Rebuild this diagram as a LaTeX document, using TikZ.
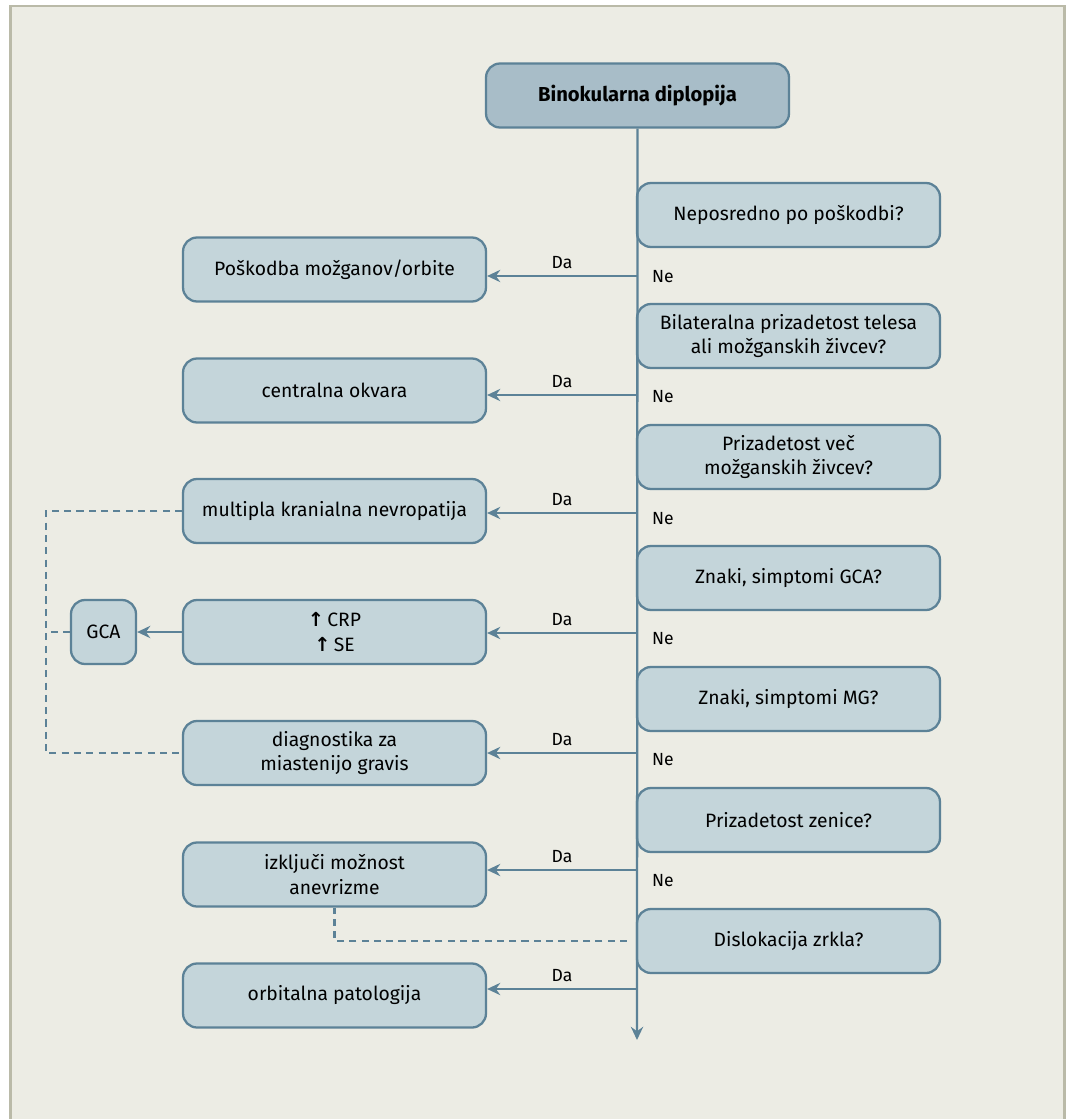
\documentclass[tikz,border=0pt]{standalone}
\usepackage{fontspec}
\setmainfont{Fira Sans}
\newfontfamily\arrowfont{DejaVu Sans}
\usetikzlibrary{arrows.meta}
\definecolor{bgcol}{HTML}{ECECE4}
\definecolor{framecol}{HTML}{BABAA8}
\definecolor{boxfill}{HTML}{C4D5DA}
\definecolor{topfill}{HTML}{A8BDC8}
\definecolor{linecol}{HTML}{5C8297}
\tikzset{
  box/.style={draw=linecol, fill=boxfill, line width=1.3pt, rounded corners=0.28cm,
    minimum width=6.06cm, minimum height=1.28cm, align=center, inner sep=2pt,
    font=\fontsize{11}{14}\selectfont},
  topbox/.style={box, fill=topfill, font=\fontsize{11.5}{14}\selectfont\bfseries},
  lbl/.style={font=\fontsize{10}{12}\selectfont},
  link/.style={draw=linecol, line width=1.3pt, -{Stealth[length=7.5pt,width=7pt,inset=2.5pt]}},
  dlink/.style={draw=linecol, line width=1.3pt, dash pattern=on 4pt off 3pt},
}
\newcommand{\up}{{\arrowfont\bfseries ↑}}
\begin{document}
\begin{tikzpicture}[x=0.02cm, y=-0.02cm]
\useasboundingbox (0,0) rectangle (1067,1119);
\draw[fill=bgcol, draw=framecol, line width=0.05cm] (10.5,6) rectangle (1064.5,1130);

% questions
\node[topbox] (start) at (637.5,95.5) {Binokularna diplopija};
\node[box] (q1) at (788.5,215) {Neposredno po poškodbi?};
\node[box] (q2) at (788.5,336) {Bilateralna prizadetost telesa\\ali možganskih živcev?};
\node[box] (q3) at (788.5,457) {Prizadetost več\\možganskih živcev?};
\node[box] (q4) at (788.5,578) {Znaki, simptomi GCA?};
\node[box] (q5) at (788.5,699) {Znaki, simptomi MG?};
\node[box] (q6) at (788.5,820) {Prizadetost zenice?};
\node[box] (q7) at (788.5,941) {Dislokacija zrkla?};

% answers
\node[box] (a1) at (334.5,269.5) {Poškodba možganov/orbite};
\node[box] (a2) at (334.5,390.5) {centralna okvara};
\node[box] (a3) at (334.5,511) {multipla kranialna nevropatija};
\node[box] (a4) at (334.5,632) {\up\,CRP\\\up\,SE};
\node[box] (a5) at (334.5,753) {diagnostika za\\miastenijo gravis};
\node[box] (a6) at (334.5,874.5) {izključi možnost\\anevrizme};
\node[box] (a7) at (334.5,995.5) {orbitalna patologija};
\node[box, minimum width=1.3cm] (gca) at (103.5,632) {GCA};

% main line
\coordinate (end) at (637,1040);
\draw[link] (start.south) -- (end);

\coordinate (b1) at (637,276);
\coordinate (b2) at (637,395);
\coordinate (b3) at (637,513);
\coordinate (b4) at (637,633);
\coordinate (b5) at (637,753);
\coordinate (b6) at (637,870);
\coordinate (b7) at (637,989);
\foreach \i in {1,...,7}
  \draw[link] (b\i) -- (b\i -| a\i.east) node[lbl, midway, above=0pt] {Da};

\foreach \y in {277,397,519,639,760,881}
  \node[lbl, anchor=west] at (646,\y) {Ne};

\draw[link] (a4.west) -- (gca.east);

% dashed
\coordinate (dl) at (46,0);
\draw[dlink] (a3.west) -- (a3.west -| dl) |- (a5.west);
\draw[dlink] (gca.west) -- (gca.west -| dl);
\draw[dlink] ([xshift=-0.18cm]q7.west) -| (a6.south);

\end{tikzpicture}
\end{document}
